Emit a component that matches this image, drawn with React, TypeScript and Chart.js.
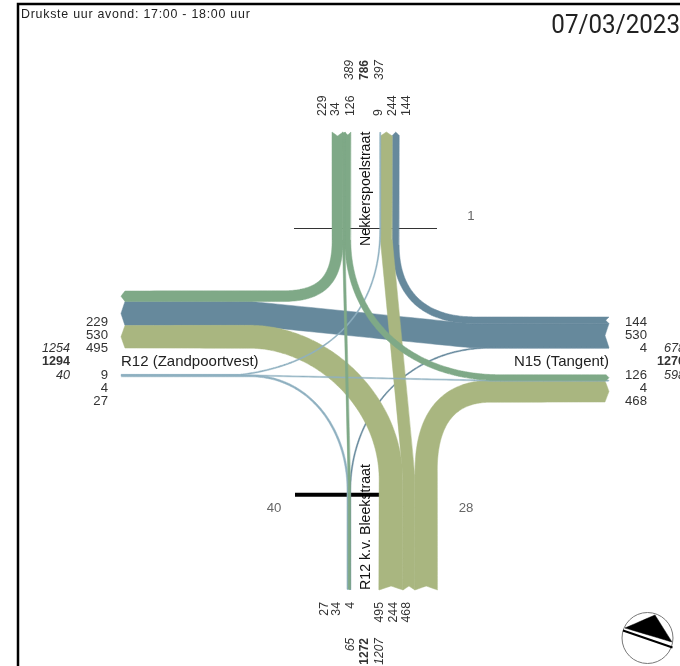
import React, { useEffect, useRef } from "react";
import { Chart, registerables } from "chart.js";

Chart.register(...registerables);

// ---- Turning counts (vehicles, 17:00 - 18:00) ----
const northIn = [229, 34, 126];
const northOut = [9, 244, 144];
const southOut = [27, 34, 4];
const southIn = [495, 244, 468];
const westOut = [229, 530, 495];
const westIn = [9, 4, 27];
const eastIn = [144, 530, 4];
const eastOut = [126, 4, 468];
const northTotals = ["389", "786", "397"];
const southTotals = ["65", "1272", "1207"];
const westTotals = ["1254", "1294", "40"];
const eastTotals = ["678", "1276", "598"];
const roadNames = ["Nekkerspoelstraat", "R12 k.v. Bleekstraat", "R12 (Zandpoortvest)", "N15 (Tangent)"];
const crossingCounts = ["1", "40", "28"];
const title = "Drukste uur avond: 17:00 - 18:00 uur";
const dateLabel = "07/03/2023";

// ---- Layout ----
const W = 680;
const H = 666;
const K_V = 0.0485; // px per vehicle on the vertical arms
const K_H = 0.0455; // px per vehicle on the horizontal arms
const END = { N: 132, S: 590, W: 121, E: 609 };
const COL = { N: "#7fa987", E: "#66899c", S: "#a9b680", W: "#8fb0c0" };
type Pt = [number, number];
type Arm = "N" | "S" | "E" | "W";

const lanes: Record<string, { start: number; values: number[] }> = {
  Nin: { start: 332, values: northIn },
  Nout: { start: 380, values: northOut },
  Sout: { start: 347.2, values: southOut },
  Sin: { start: 379, values: southIn },
  Wout: { start: 291, values: westOut },
  Win: { start: 374.7, values: westIn },
  Ein: { start: 317, values: eastIn },
  Eout: { start: 374.8, values: eastOut },
};

function laneCentre(arm: Arm, dir: "in" | "out", i: number) {
  const l = lanes[arm + dir];
  const k = arm === "N" || arm === "S" ? K_V : K_H;
  let s = l.start;
  for (let j = 0; j < i; j++) s += l.values[j] * k;
  return s + (l.values[i] * k) / 2;
}
function laneWidth(arm: Arm, dir: "in" | "out", i: number) {
  const k = arm === "N" || arm === "S" ? K_V : K_H;
  return lanes[arm + dir].values[i] * k;
}
function armPoint(arm: Arm, c: number, along: number): Pt {
  return arm === "N" || arm === "S" ? [c, along] : [along, c];
}

// Routes: origin arm/lane -> destination arm/lane, where each leaves its arm, and curve handles.
type Route = { from: Arm; i: number; to: Arm; j: number; a: number; b: number; c1?: Pt; c2?: Pt; min?: number };
const routes: Route[] = [
  // east origin
  { from: "E", i: 1, to: "W", j: 1, a: 470, b: 250 },
  { from: "E", i: 0, to: "N", j: 2, a: 475, b: 245, c1: [425, 320.3], c2: [395.8, 295] },
  { from: "E", i: 2, to: "S", j: 2, a: 490, b: 490, c1: [410, 347.8], c2: [351, 410] },
  // south origin
  { from: "S", i: 0, to: "W", j: 2, a: 480, b: 250, c1: [391, 400], c2: [320, 336.8] },
  { from: "S", i: 1, to: "N", j: 1, a: 475, b: 240 },
  { from: "S", i: 2, to: "E", j: 2, a: 470, b: 490, c1: [426.2, 430], c2: [440, 391.7] },
  // west origin
  { from: "W", i: 0, to: "N", j: 0, a: 240, b: 230, c1: [320, 365], c2: [380, 320] },
  { from: "W", i: 1, to: "E", j: 1, a: 240, b: 490 },
  { from: "W", i: 2, to: "S", j: 0, a: 250, b: 490, c1: [310, 376], c2: [348, 430], min: 1.8 },
  // north origin
  { from: "N", i: 0, to: "W", j: 0, a: 240, b: 282, c1: [337.55, 282], c2: [320, 296.2] },
  { from: "N", i: 2, to: "E", j: 0, a: 240, b: 500, c1: [347.8, 320], c2: [410, 377.7] },
  { from: "N", i: 1, to: "S", j: 1, a: 250, b: 480, min: 2.4 },
];

function flowPolygon(r: Route) {
  const c0 = laneCentre(r.from, "in", r.i);
  const c1 = laneCentre(r.to, "out", r.j);
  const w0 = Math.max(r.min ?? 1.1, laneWidth(r.from, "in", r.i));
  const w1 = Math.max(r.min ?? 1.1, laneWidth(r.to, "out", r.j));
  const p0 = armPoint(r.from, c0, r.a);
  const p3 = armPoint(r.to, c1, r.b);
  const centre: Pt[] = [armPoint(r.from, c0, END[r.from]), p0];
  if (r.c1 && r.c2) {
    for (let s = 1; s < 60; s++) {
      const t = s / 60;
      const u = 1 - t;
      centre.push([
        u * u * u * p0[0] + 3 * u * u * t * r.c1[0] + 3 * u * t * t * r.c2[0] + t * t * t * p3[0],
        u * u * u * p0[1] + 3 * u * u * t * r.c1[1] + 3 * u * t * t * r.c2[1] + t * t * t * p3[1],
      ]);
    }
  }
  centre.push(p3);
  centre.push(armPoint(r.to, c1, END[r.to]));

  const len = [0];
  for (let i = 1; i < centre.length; i++) {
    len.push(len[i - 1] + Math.hypot(centre[i][0] - centre[i - 1][0], centre[i][1] - centre[i - 1][1]));
  }
  const total = len[len.length - 1];
  const unit = (a: Pt, b: Pt): Pt => {
    const d = Math.hypot(b[0] - a[0], b[1] - a[1]) || 1;
    return [(b[0] - a[0]) / d, (b[1] - a[1]) / d];
  };
  const left: Pt[] = [];
  const right: Pt[] = [];
  centre.forEach((p, i) => {
    const u1 = unit(centre[Math.max(0, i - 1)], centre[Math.max(1, i)]);
    const u2 = unit(centre[Math.min(centre.length - 2, i)], centre[Math.min(centre.length - 1, i + 1)]);
    const tangent = unit([0, 0], [u1[0] + u2[0], u1[1] + u2[1]]);
    const w = (w0 + (w1 - w0) * (len[i] / total)) / 2;
    left.push([p[0] - tangent[1] * w, p[1] + tangent[0] * w]);
    right.push([p[0] + tangent[1] * w, p[1] - tangent[0] * w]);
  });
  // destination: arrow tip outwards; origin: notch inwards
  const dA = Math.min(4, w1 / 2);
  const last = centre.length - 1;
  const e = centre[last];
  const ue = unit(centre[last - 1], e);
  left[last] = [left[last][0] - ue[0] * dA, left[last][1] - ue[1] * dA];
  right[last] = [right[last][0] - ue[0] * dA, right[last][1] - ue[1] * dA];
  const dB = Math.min(4, w0 / 2);
  const us = unit(centre[0], centre[1]);
  const notch: Pt = [centre[0][0] + us[0] * dB, centre[0][1] + us[1] * dB];
  const poly: Pt[] = [...left, e, ...right.slice().reverse(), notch, left[0]];
  return poly.map(([x, y]) => ({ x, y }));
}

const FAM = "'Liberation Sans', Arial, sans-serif";
const NUM_H = `13.2px ${FAM}`;
const NUM_V = `12.3px ${FAM}`;
const BOLD_H = `bold 12.6px ${FAM}`;
const ITAL_H = `italic 12.6px ${FAM}`;
const BOLD_V = `bold 12px ${FAM}`;
const ITAL_V = `italic 12px ${FAM}`;
const ROAD_H = `15px ${FAM}`;
const ROAD_V = `14.2px ${FAM}`;
const TXT = "#333333";

const textPlugin = {
  id: "flowText",
  beforeDatasetsDraw(chart: any) {
    const { ctx, scales } = chart;
    const X = (v: number) => scales.x.getPixelForValue(v);
    const Y = (v: number) => scales.y.getPixelForValue(v);
    const put = (s: string, x: number, y: number, font: string, align: CanvasTextAlign, color = TXT) => {
      ctx.font = font;
      ctx.fillStyle = color;
      ctx.textAlign = align;
      ctx.textBaseline = "middle";
      ctx.fillText(s, X(x), Y(y) + 0.6);
    };
    const vert = (s: string, x: number, y: number, font: string, align: CanvasTextAlign, color = TXT) => {
      ctx.save();
      ctx.translate(X(x), Y(y));
      ctx.rotate(-Math.PI / 2);
      ctx.font = font;
      ctx.fillStyle = color;
      ctx.textAlign = align;
      ctx.textBaseline = "middle";
      ctx.fillText(s, 0, 0);
      ctx.restore();
    };
    ctx.save();
    ctx.letterSpacing = "0.75px";
    put(title, 21, 14, `12.4px ${FAM}`, "left", "#222222");
    ctx.letterSpacing = "0px";
    ctx.save();
    ctx.translate(X(680), Y(26));
    ctx.scale(0.93, 1);
    put(dateLabel, 0, 0, "26px Roboto, sans-serif", "right", "#222222");
    ctx.restore();

    // north numbers
    const nx = [323, 336, 351];
    const nx2 = [379, 393, 407];
    northIn.forEach((v, i) => vert(String(v), nx[i], 116, NUM_V, "left"));
    northOut.forEach((v, i) => vert(String(v), nx2[i], 116, NUM_V, "left"));
    const ntx = [350, 365, 380];
    northTotals.forEach((v, i) => vert(v, ntx[i], 80, i === 1 ? BOLD_V : ITAL_V, "left"));

    // south numbers
    const sx = [325, 337, 351];
    const sx2 = [380, 394, 407];
    southOut.forEach((v, i) => vert(String(v), sx[i], 602, NUM_V, "right"));
    southIn.forEach((v, i) => vert(String(v), sx2[i], 602, NUM_V, "right"));
    const stx = [351, 365, 380];
    southTotals.forEach((v, i) => vert(v, stx[i], 638, i === 1 ? BOLD_V : ITAL_V, "right"));

    // west numbers
    const rowA = [322, 335, 348];
    const rowB = [374.5, 388, 401];
    westOut.forEach((v, i) => put(String(v), 108, rowA[i], NUM_H, "right"));
    westIn.forEach((v, i) => put(String(v), 108, rowB[i], NUM_H, "right"));
    const rowT = [348, 361, 374.5];
    westTotals.forEach((v, i) => put(v, 70, rowT[i], i === 1 ? BOLD_H : ITAL_H, "right"));

    // east numbers
    eastIn.forEach((v, i) => put(String(v), 647, rowA[i], NUM_H, "right"));
    eastOut.forEach((v, i) => put(String(v), 647, rowB[i], NUM_H, "right"));
    eastTotals.forEach((v, i) => put(v, i === 1 ? 657 : 664, rowT[i], i === 1 ? BOLD_H : ITAL_H, "left"));

    // road names
    vert(roadNames[0], 366, 246, ROAD_V, "left", "#111111");
    vert(roadNames[1], 366, 590, ROAD_V, "left", "#111111");
    put(roadNames[2], 121, 361, ROAD_H, "left", "#222222");
    put(roadNames[3], 609, 361, ROAD_H, "right", "#222222");

    // crossing counts
    put(crossingCounts[0], 471, 216, NUM_H, "center", "#666666");
    put(crossingCounts[1], 274, 508, NUM_H, "center", "#666666");
    put(crossingCounts[2], 466, 508, NUM_H, "center", "#666666");
    ctx.restore();
  },
};

function line(points: Pt[], color: string, width: number) {
  return {
    data: points.map(([x, y]) => ({ x, y })),
    showLine: true,
    borderColor: color,
    borderWidth: width,
    pointRadius: 0,
    fill: false,
    tension: 0,
  };
}
function shape(data: { x: number; y: number }[], color: string) {
  return {
    data,
    showLine: true,
    borderColor: color,
    borderWidth: 0.5,
    backgroundColor: color,
    pointRadius: 0,
    fill: "shape",
    tension: 0.0005, // keeps Chart.js off its x-rounding fast path, so the edges stay smooth
    clip: 0,
  };
}

export default function App() {
  const ref = useRef<HTMLCanvasElement>(null);
  useEffect(() => {
    const layers: any[] = [
      line([[18, H], [18, 4], [W, 4]], "#000000", 2.5),
      line([[294, 228.5], [437, 228.5]], "#333333", 1),
      line([[295, 494.7], [385, 494.7]], "#000000", 4),
      ...routes.map((r) => shape(flowPolygon(r), COL[r.from])),
      // compass
      {
        data: [{ x: 647.5, y: 638 }],
        pointRadius: 25.5,
        pointStyle: "circle",
        pointBackgroundColor: "#ffffff",
        pointBorderColor: "#777777",
        pointBorderWidth: 1,
        showLine: false,
        clip: false,
      },
      shape([{ x: 625, y: 628 }, { x: 655, y: 615 }, { x: 672, y: 642 }, { x: 625, y: 628 }], "#000000"),
      line([[623, 630.5], [672.5, 647.5]], "#000000", 2),
    ];
    layers.forEach((d, i) => (d.order = layers.length - i));
    const chart = new Chart(ref.current!, {
      type: "scatter",
      data: { datasets: layers },
      plugins: [textPlugin],
      options: {
        animation: false,
        responsive: false,
        maintainAspectRatio: false,
        layout: { padding: 0, autoPadding: false },
        scales: {
          x: { type: "linear", min: 0, max: W, display: false },
          y: { type: "linear", min: 0, max: H, reverse: true, display: false },
        },
        plugins: { legend: { display: false }, tooltip: { enabled: false } },
        events: [],
      },
    } as any);
    return () => chart.destroy();
  }, []);
  return (
    <div style={{ position: "absolute", left: 0, top: 0, width: W, height: H, background: "#fff" }}>
      <canvas ref={ref} width={W} height={H} style={{ display: "block" }} />
    </div>
  );
}
